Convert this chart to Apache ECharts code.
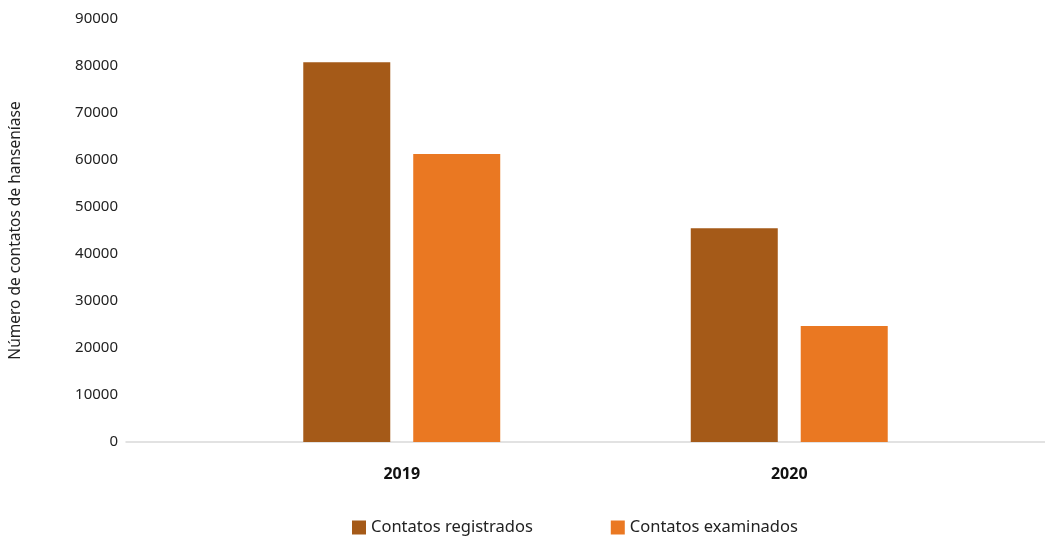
<!DOCTYPE html>
<html><head><meta charset="utf-8">
<script src="https://cdn.jsdelivr.net/npm/echarts@6/dist/echarts.min.js"></script>
<style>html,body{margin:0;padding:0;background:#fff}#c{width:1045px;height:536px}</style>
</head><body><div id="c"></div>
<script>
const categories = ['2019', '2020'];
const registrados = [80800, 45500];
const examinados = [61300, 24700];
const yTicks = [0, 10000, 20000, 30000, 40000, 50000, 60000, 70000, 80000, 90000];
const seriesNames = ['Contatos registrados', 'Contatos examinados'];

const chart = echarts.init(document.getElementById('c'));
const font = '"Noto Sans", sans-serif';
chart.setOption({
  animation: false,
  textStyle: { fontFamily: font },
  grid: [
    { left: 124, right: 0, top: 19, bottom: 94 },
    { left: 208, right: 62, top: 19, bottom: 94 }
  ],
  xAxis: [
    { gridIndex: 0, type: 'category', data: categories,
      axisLine: { lineStyle: { color: '#d9d9d9', width: 1.5 } },
      axisTick: { show: false }, axisLabel: { show: false } },
    { gridIndex: 1, type: 'category', data: categories,
      axisLine: { show: false }, axisTick: { show: false },
      axisLabel: { color: '#111', fontSize: 16, fontWeight: 'bold', margin: 24, fontFamily: font } }
  ],
  yAxis: [
    { gridIndex: 0, type: 'value', min: yTicks[0], max: yTicks[yTicks.length - 1], interval: 10000,
      splitLine: { show: false }, axisLine: { show: false }, axisTick: { show: false },
      axisLabel: { color: '#222', fontSize: 15, margin: 8, formatter: v => String(v) },
      name: 'Número de contatos de hanseníase', nameLocation: 'middle', nameGap: 102,
      nameTextStyle: { color: '#222', fontSize: 15.5 } },
    { gridIndex: 1, type: 'value', min: yTicks[0], max: yTicks[yTicks.length - 1], interval: 10000,
      show: false }
  ],
  legend: {
    bottom: -5, left: 347, itemWidth: 14, itemHeight: 14, itemGap: 78,
    icon: 'rect', textStyle: { color: '#222', fontSize: 16.5 },
    data: seriesNames
  },
  series: [
    { name: seriesNames[0], type: 'bar', xAxisIndex: 1, yAxisIndex: 1, data: registrados,
      barWidth: 87, barGap: '26.4%', itemStyle: { color: '#A55A18' } },
    { name: seriesNames[1], type: 'bar', xAxisIndex: 1, yAxisIndex: 1, data: examinados,
      barWidth: 87, barGap: '26.4%', itemStyle: { color: '#EA7822' } }
  ]
});
</script></body></html>
